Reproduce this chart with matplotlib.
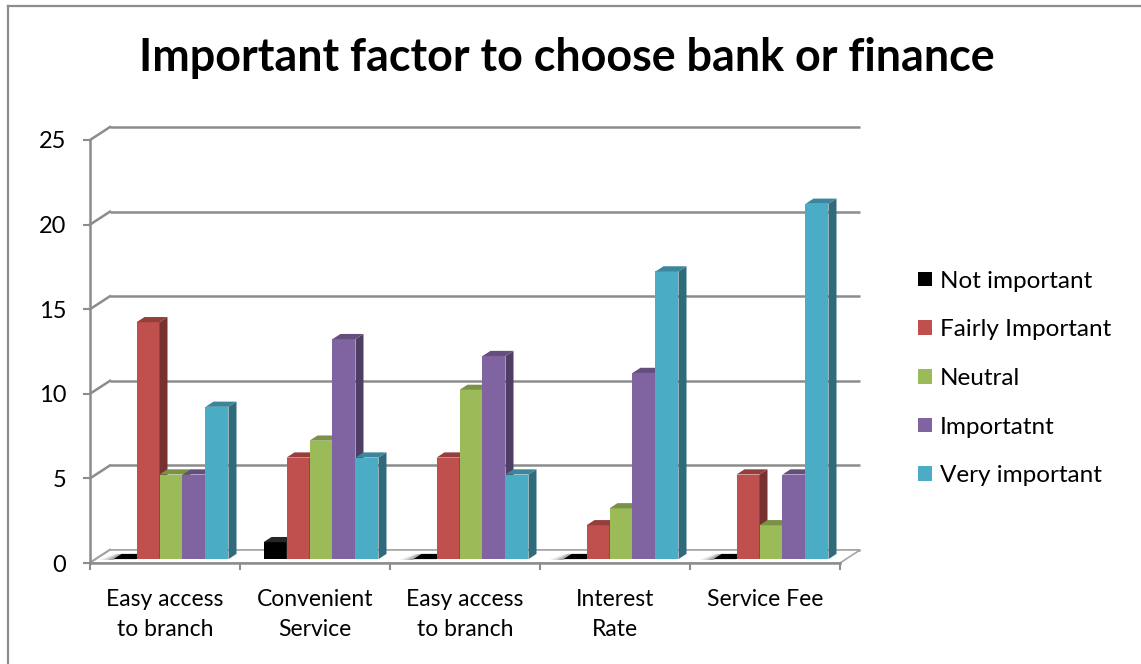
import matplotlib
matplotlib.use("Agg")
import matplotlib.pyplot as plt
from matplotlib.patches import Polygon, Rectangle
from matplotlib.lines import Line2D
import numpy as np

categories = ["Easy access\nto branch", "Convenient\nService", "Easy access\nto branch",
              "Interest\nRate", "Service Fee"]
series_names = ["Not important", "Fairly Important", "Neutral", "Importatnt", "Very important"]
not_important = [0, 1, 0, 0, 0]
fairly_important = [14, 6, 6, 2, 5]
neutral = [5, 7, 10, 3, 2]
important = [5, 13, 12, 11, 5]
very_important = [9, 6, 5, 17, 21]
yticks = [0, 5, 10, 15, 20, 25]
title = "Important factor to choose bank or finance"

series = [not_important, fairly_important, neutral, important, very_important]
colors = ["#000000", "#C0504D", "#9BBB59", "#8064A2", "#4BACC6"]

FONT = "Lato"
W, H = 1141, 664
fig = plt.figure(figsize=(W / 100, H / 100), dpi=100)

# pixel geometry of plot region
px_x0, px_cat = 90, 150.0        # front-left x, px per category
px_y0, px_unit = 563, 16.92      # front floor y, px per unit
ax_l, ax_r, ax_t, ax_b = 60, 880, 110, 600
ax = fig.add_axes([ax_l / W, 1 - ax_b / H, (ax_r - ax_l) / W, (ax_b - ax_t) / H])
ax.set_xlim((ax_l - px_x0) / px_cat, (ax_r - px_x0) / px_cat)
ax.set_ylim((px_y0 - ax_b) / px_unit, (px_y0 - ax_t) / px_unit)
ax.patch.set_alpha(0)

DX = 20 / px_cat
DY = 13 / px_unit
grid_c = "#8C8C8C"
n = len(categories)

# back wall gridlines and side-wall diagonals
for t in yticks:
    ax.plot([DX, n + DX], [t + DY, t + DY], color=grid_c, lw=1.8, zorder=1, solid_capstyle="butt")
    ax.plot([0, DX], [t, t + DY], color=grid_c, lw=1.8, zorder=1)

# floor
floor = Polygon([[0, 0], [n, 0], [n + DX, DY], [DX, DY]], closed=True,
                facecolor="white", edgecolor="#A6A6A6", lw=1.2, zorder=2)
ax.add_patch(floor)

# bars
gap = 0.1167
bw = (1 - 2 * gap) / len(series)
d0, d1 = 0.3, 0.7


def shade(c, f):
    r, g, b = matplotlib.colors.to_rgb(c)
    return (r * f, g * f, b * f)


for i in range(n):
    for j, (vals, c) in enumerate(zip(series, colors)):
        v = vals[i]
        xl = i + gap + j * bw + d0 * DX
        xr = xl + bw
        yb = d0 * DY
        yt = v + d0 * DY
        ddx = (d1 - d0) * DX
        ddy = (d1 - d0) * DY
        z = 3 + j * 0.01
        side_c = (0.25, 0.25, 0.25) if c == "#000000" else shade(c, 0.62)
        top_c = (0.15, 0.15, 0.15) if c == "#000000" else shade(c, 0.78)
        if v > 0:
            ax.add_patch(Rectangle((xl, yb), bw, v, facecolor=c, edgecolor="none", zorder=z))
            ax.add_patch(Polygon([[xr, yb], [xr + ddx, yb + ddy], [xr + ddx, yt + ddy], [xr, yt]],
                                 facecolor=side_c, edgecolor="none", zorder=z))
            ax.add_patch(Polygon([[xl, yt], [xr, yt], [xr + ddx, yt + ddy], [xl + ddx, yt + ddy]],
                                 facecolor=top_c, edgecolor="none", zorder=z))
        else:
            # soft shadow of a flat bar
            for k, a in enumerate([0.08, 0.12, 0.18]):
                sh = 0.6 * bw * (1 - k * 0.3)
                ax.add_patch(Polygon([[xl - sh, yt - 0.05], [xl, yt - 0.05], [xl + ddx, yt + ddy],
                                      [xl + ddx - sh * 0.5, yt + ddy]],
                                     facecolor="black", alpha=a, edgecolor="none", zorder=z - 0.005))
            ax.add_patch(Polygon([[xl, yt], [xr, yt], [xr + ddx, yt + ddy], [xl + ddx, yt + ddy]],
                                 facecolor=c, edgecolor="none", zorder=z))

# axes spines / ticks
for s in ["top", "right"]:
    ax.spines[s].set_visible(False)
ax.spines["left"].set_position(("data", 0))
ax.spines["bottom"].set_position(("data", 0))
ax.spines["left"].set_bounds(0, 25)
ax.spines["bottom"].set_bounds(0, n)
for s in ["left", "bottom"]:
    ax.spines[s].set_color(grid_c)
    ax.spines[s].set_linewidth(1.8)
    ax.spines[s].set_zorder(2.5)
ax.set_yticks(yticks)
ax.set_yticklabels([str(t) for t in yticks], fontsize=17, family=FONT)
ax.tick_params(axis="y", length=5, width=1.5, color=grid_c, pad=12)
ax.set_xticks(np.arange(n + 1))
ax.set_xticklabels([""] * (n + 1))
ax.tick_params(axis="x", which="major", length=5, width=1.5, color=grid_c)
ax.set_xticks(np.arange(n) + 0.5, minor=True)
ax.set_xticklabels(categories, minor=True, fontsize=16.5, family=FONT, linespacing=1.57)
ax.tick_params(axis="x", which="minor", length=0, pad=18.5)

# title
fig.text(567 / W, 1 - 58 / H, title, ha="center", va="center", fontsize=32.3,
         fontweight="bold", family=FONT)

# legend
handles = [Rectangle((0, 0), 1, 1, facecolor=c, edgecolor="none") for c in colors]
fig.legend(handles, series_names, loc="center left", bbox_to_anchor=(906 / W, 1 - 378.5 / H),
           frameon=False, prop={"family": FONT, "size": 17.5}, handlelength=0.55, handleheight=0.55,
           handletextpad=0.35, labelspacing=1.14, borderpad=0)

# outer border (top and left)
fig.add_artist(Line2D([8 / W, 8 / W], [0, 1 - 5.5 / H], color="#8C8C8C", lw=1.6))
fig.add_artist(Line2D([8 / W, 1], [1 - 5.5 / H, 1 - 5.5 / H], color="#8C8C8C", lw=1.6))

fig.savefig("out.png", dpi=100)
